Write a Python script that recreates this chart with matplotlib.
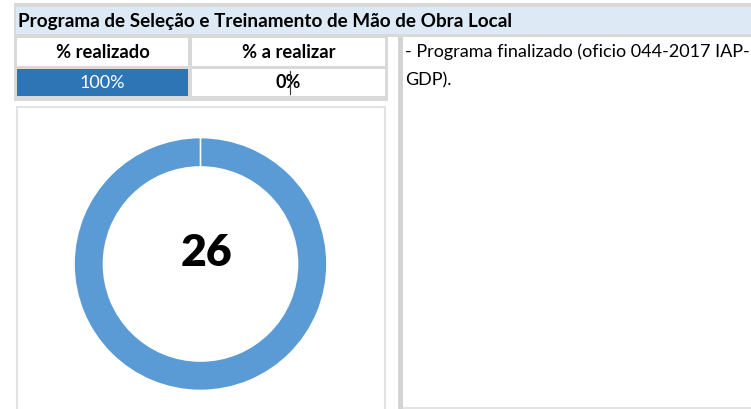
import matplotlib
matplotlib.use("Agg")
import matplotlib.pyplot as plt
from matplotlib.patches import Rectangle

plt.rcParams['font.family'] = ['Lato', 'DejaVu Sans']

# data
title = "Programa de Seleção e Treinamento de Mão de Obra Local"
col_labels = ["% realizado", "% a realizar"]
pct_values = [100, 0]
total = 26
note_lines = ["- Programa finalizado (oficio 044-2017 IAP-", "GDP)."]

W, H = 751, 409
fig = plt.figure(figsize=(W / 100, H / 100), dpi=100)
ax = fig.add_axes([0, 0, 1, 1])
ax.set_xlim(0, W)
ax.set_ylim(H, 0)
ax.axis("off")

gray = "#d9d9d9"
light_gray = "#e3e3e3"
header_blue = "#dde9f5"
cell_blue = "#2e75b6"
donut_blue = "#5b9bd5"

def box(x0, y0, x1, y1, fc, ec="none", lw=0, z=1):
    ax.add_patch(Rectangle((x0, y0), x1 - x0, y1 - y0, facecolor=fc,
                           edgecolor=ec, linewidth=lw, zorder=z))

# frame / header
box(14, 3, W, 37, gray)
box(16, 7, W, 34, header_blue, z=2)
ax.text(18, 21, title, fontsize=13.6, fontweight="bold", va="center",
        ha="left", color="black", zorder=3)

# table
box(14, 34, 388, 101, gray)
box(17, 38, 188, 66, "white", z=2)
box(192, 38, 385, 66, "white", z=2)
box(17, 69, 188, 96, cell_blue, z=2)
box(192, 69, 385, 96, "white", z=2)
centers = [102.5, 288.5]
for cx, lab in zip(centers, col_labels):
    ax.text(cx, 52, lab, fontsize=13.2, fontweight="bold", ha="center",
            va="center", color="black", zorder=3)
ax.text(centers[0], 82.5, f"{pct_values[0]}%", fontsize=13, ha="center",
        va="center", color="white", zorder=3)
ax.text(centers[1], 82.5, f"{pct_values[1]}%", fontsize=13, fontweight="bold",
        ha="center", va="center", color="black", zorder=3)
ax.plot([290, 290], [71, 94], color="#333333", lw=0.8, zorder=4)

# note box
box(398, 37, 403, 409, "#d4d4d4")
box(403, 37, W, 407, "white", z=2)
box(403, 407, W, 409, light_gray, z=2)
for i, line in enumerate(note_lines):
    ax.text(405, 52 + i * 28, line, fontsize=13, ha="left", va="center",
            color="black", zorder=3, clip_on=True)

# donut panel
box(17, 107, 385, 412, "white", ec=light_gray, lw=1.5)

cx, cy, r = 200.5, 264, 126.5
pax = fig.add_axes([(cx - r) / W, (H - cy - r) / H, 2 * r / W, 2 * r / H])
pax.pie(pct_values, colors=[donut_blue, "white"], startangle=90,
        counterclock=False, radius=1,
        wedgeprops=dict(width=29.5 / r, edgecolor="white", linewidth=1.2))
pax.set_xlim(-1, 1)
pax.set_ylim(-1, 1)
pax.set_aspect("equal")
pax.text(0.045, 0.09, str(total), fontsize=32, fontweight="heavy",
         ha="center", va="center", color="black")

fig.savefig("out.png", dpi=100)
